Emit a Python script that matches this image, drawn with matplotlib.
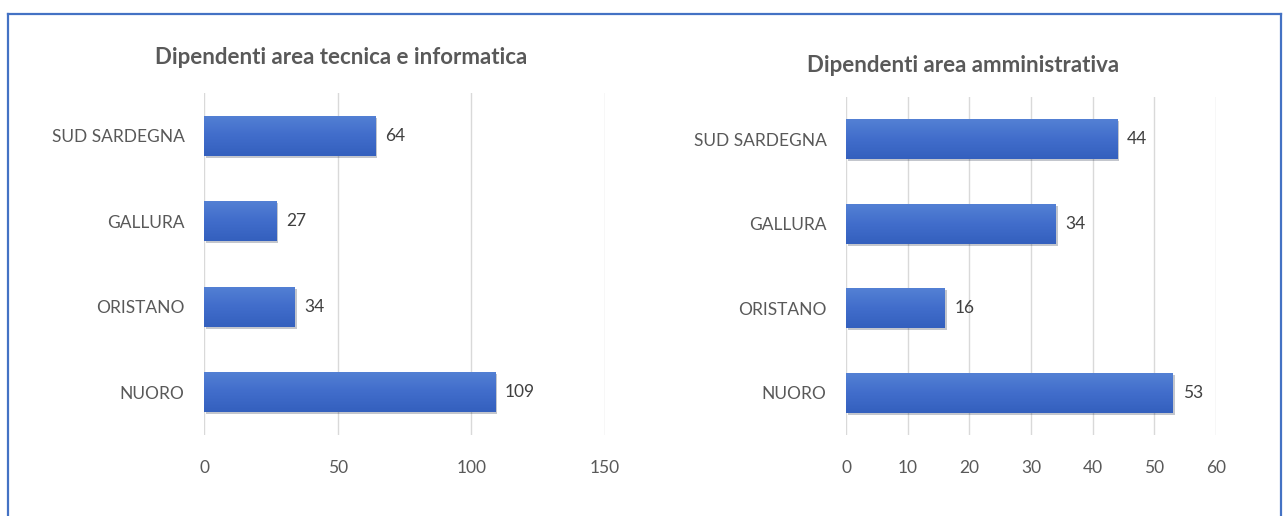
import matplotlib
matplotlib.use('Agg')
import matplotlib.pyplot as plt
import numpy as np
from matplotlib.lines import Line2D
import matplotlib.patheffects as pe

plt.rcParams['font.family'] = ['Lato', 'DejaVu Sans']

# data
regioni = ['NUORO', 'ORISTANO', 'GALLURA', 'SUD SARDEGNA']
tecnica = [109, 34, 27, 64]
amministrativa = [53, 16, 34, 44]

titolo_sx = 'Dipendenti area tecnica e informatica'
titolo_dx = 'Dipendenti area amministrativa'
ticks_sx = [0, 50, 100, 150]
ticks_dx = [0, 10, 20, 30, 40, 50, 60]

grigio = '#595959'
W, H = 1284, 516

fig = plt.figure(figsize=(W / 100, H / 100), dpi=100)
fig.patch.set_facecolor('white')

# cornice blu
fig.add_artist(Line2D([8 / W, 8 / W], [0, 1 - 14 / H], color='#4472c4', lw=1.6, transform=fig.transFigure))
fig.add_artist(Line2D([8 / W, 1281 / W], [1 - 14 / H, 1 - 14 / H], color='#4472c4', lw=1.6, transform=fig.transFigure))
fig.add_artist(Line2D([1281 / W, 1281 / W], [0, 1 - 14 / H], color='#4472c4', lw=1.6, transform=fig.transFigure))

grad = np.linspace(0, 1, 50).reshape(-1, 1)
cmap = matplotlib.colors.LinearSegmentedColormap.from_list('b', ['#3460be', '#416dcb', '#5380d4'])


def disegna(ax, valori, ticks, titolo, tx, ty):
    y = np.arange(len(regioni))
    bars = ax.barh(y, valori, height=0.47, color='#3a66c6', zorder=3,
                   path_effects=[pe.SimplePatchShadow(offset=(1.5, -1.5), alpha=0.25), pe.Normal()])
    for b in bars:
        x0, y0 = b.get_x(), b.get_y()
        im = ax.imshow(grad, cmap=cmap, aspect='auto', zorder=4,
                       extent=(x0, x0 + b.get_width(), y0, y0 + b.get_height()), origin='lower')
        im.set_clip_path(b)
    for yi, v in zip(y, valori):
        ax.annotate(str(v), (v, yi), xytext=(7, 0), textcoords='offset points',
                    va='center', ha='left', fontsize=12.5, color='#404040')
    ax.set_xlim(ticks[0], ticks[-1])
    ax.set_ylim(-0.5, len(regioni) - 0.5)
    ax.set_xticks(ticks)
    ax.set_yticks(y)
    ax.set_yticklabels(regioni)
    ax.tick_params(axis='both', length=0, labelsize=12.5, labelcolor=grigio)
    ax.tick_params(axis='x', pad=18)
    ax.tick_params(axis='y', pad=14)
    ax.grid(axis='x', color='#d9d9d9', lw=1, zorder=0)
    for s in ax.spines.values():
        s.set_visible(False)
    fig.text(tx / W, 1 - ty / H, titolo, ha='center', va='center',
             fontsize=16, fontweight='bold', color=grigio)


ax1 = fig.add_axes([204 / W, 1 - 435 / H, (605 - 204) / W, (435 - 93) / H])
disegna(ax1, tecnica, ticks_sx, titolo_sx, 341, 57)

ax2 = fig.add_axes([846 / W, 1 - 435 / H, (1216 - 846) / W, (435 - 97) / H])
disegna(ax2, amministrativa, ticks_dx, titolo_dx, 963, 65)

fig.savefig('out.png', dpi=100)
